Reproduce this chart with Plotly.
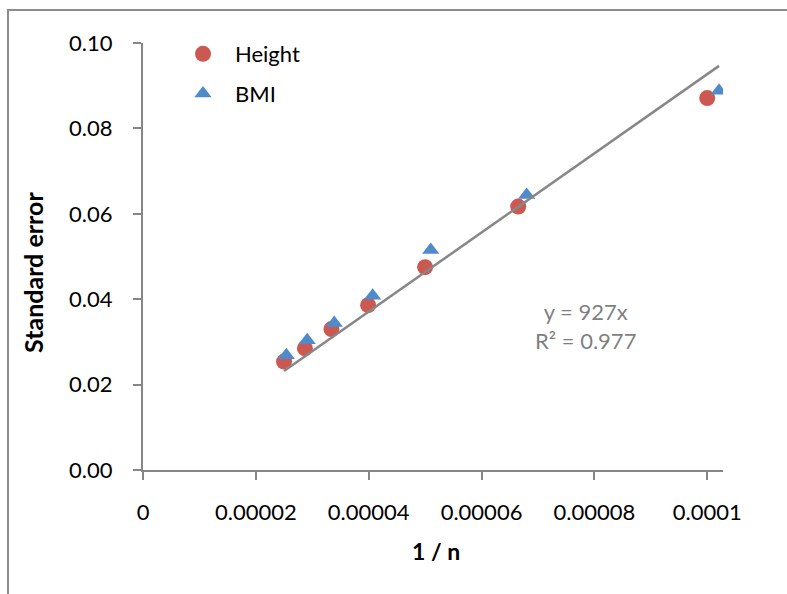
import plotly.graph_objects as go

# ---- data ----
height_x = [0.0000250, 0.0000287, 0.0000334, 0.0000399, 0.0000500, 0.0000665, 0.0001000]
height_y = [0.0254, 0.0285, 0.0330, 0.0386, 0.0475, 0.0617, 0.0871]
bmi_x = [0.0000254, 0.0000291, 0.0000339, 0.0000407, 0.0000510, 0.0000680, 0.0001021]
bmi_y = [0.0269, 0.0304, 0.0344, 0.0408, 0.0515, 0.0644, 0.0888]
trend_slope = 927
trend_r2 = 0.977

x_tickvals = [0, 0.00002, 0.00004, 0.00006, 0.00008, 0.0001]
x_ticktext = ["0", "0.00002", "0.00004", "0.00006", "0.00008", "0.0001"]
y_tickvals = [0.00, 0.02, 0.04, 0.06, 0.08, 0.10]

all_x = height_x + bmi_x
trend_x = [min(all_x), max(all_x)]
trend_y = [trend_slope * v for v in trend_x]

FONT = "Lato, 'Open Sans', sans-serif"
GRAY = "#868686"

fig = go.Figure()
fig.add_trace(go.Scatter(
    x=height_x, y=height_y, mode="markers", name="Height",
    legendgroup="h",
    marker=dict(symbol="circle", size=16, color="#CB5851", line=dict(width=0)),
))
fig.add_trace(go.Scatter(
    x=bmi_x, y=bmi_y, mode="markers", name="BMI",
    legendgroup="b",
    marker=dict(symbol="triangle-up", size=15, color="#4F8ACB", line=dict(width=0)),
))
fig.add_trace(go.Scatter(
    x=trend_x, y=trend_y, mode="lines", showlegend=False,
    line=dict(color="#878787", width=2.5), hoverinfo="skip",
))

fig.update_layout(
    width=787, height=594,
    margin=dict(l=143, r=64, t=43, b=124),
    paper_bgcolor="white", plot_bgcolor="white",
    font=dict(family=FONT, size=22, color="#000000"),
    showlegend=True,
    legend=dict(
        x=(171 - 143) / 580, y=(470 - 33) / 427, xanchor="left", yanchor="top",
        bgcolor="rgba(0,0,0,0)", borderwidth=0,
        font=dict(family=FONT, size=22, color="#000000"),
        itemwidth=54, traceorder="grouped", tracegroupgap=8,
    ),
    xaxis=dict(
        range=[0, 0.0001028], tickvals=x_tickvals, ticktext=x_ticktext,
        showgrid=False, zeroline=False, showline=True, linecolor=GRAY, linewidth=2,
        ticks="outside", ticklen=8, tickwidth=2, tickcolor=GRAY,
        ticklabelstandoff=14, tickfont=dict(size=22),
    ),
    yaxis=dict(
        range=[0, 0.10], tickvals=y_tickvals, tickformat=".2f",
        showgrid=False, zeroline=False, showline=True, linecolor=GRAY, linewidth=2,
        ticks="outside", ticklen=8, tickwidth=2, tickcolor=GRAY,
        ticklabelstandoff=16, tickfont=dict(size=22),
    ),
    shapes=[dict(
        type="rect", xref="paper", yref="paper",
        x0=(8 - 143) / 580, x1=(810 - 143) / 580,
        y0=(470 - 620) / 427, y1=(470 - 10) / 427,
        line=dict(color="#8C8C8C", width=2), fillcolor="rgba(0,0,0,0)", layer="below",
    )],
    annotations=[
        dict(text="<b>Standard error</b>", textangle=-90, xref="paper", yref="paper",
             x=(33 - 143) / 580, y=(470 - 273) / 427, showarrow=False,
             xanchor="center", yanchor="middle", font=dict(size=25)),
        dict(text="<b>1 / n</b>", xref="paper", yref="paper",
             x=(436 - 143) / 580, y=(470 - 551) / 427, showarrow=False,
             xanchor="center", yanchor="middle", font=dict(size=23)),
        dict(text=f"y = {trend_slope}x<br>R² = {trend_r2}", xref="paper", yref="paper",
             x=(585 - 143) / 580, y=(470 - 326) / 427, showarrow=False,
             xanchor="center", yanchor="middle", align="center",
             font=dict(size=22, color="#7F7F7F")),
    ],
)

fig.write_html("out.html")
